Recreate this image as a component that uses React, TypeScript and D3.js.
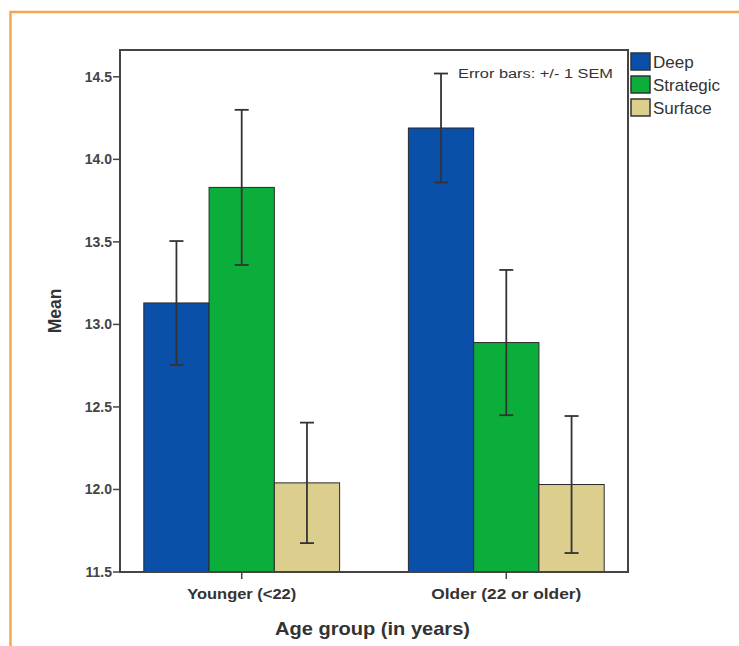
import * as d3 from "d3";

const ageGroups = ["Younger (<22)", "Older (22 or older)"];
const approaches = ["Deep", "Strategic", "Surface"];
const approachColors = ["#0b50a8", "#0bae3a", "#dccf8e"];

// mean values per age group, in order Deep / Strategic / Surface
const youngerMeans = [13.13, 13.83, 12.04];
const olderMeans = [14.19, 12.89, 12.03];
// +/- 1 SEM
const youngerSem = [0.375, 0.47, 0.365];
const olderSem = [0.33, 0.44, 0.415];

const yTicks = [11.5, 12.0, 12.5, 13.0, 13.5, 14.0, 14.5];

interface BarRow {
  group: string;
  approach: string;
  mean: number;
  sem: number;
}

const rows: BarRow[] = [
  ...approaches.map((a, i) => ({ group: ageGroups[0], approach: a, mean: youngerMeans[i], sem: youngerSem[i] })),
  ...approaches.map((a, i) => ({ group: ageGroups[1], approach: a, mean: olderMeans[i], sem: olderSem[i] })),
];

const font = "'Liberation Sans', Arial, sans-serif";

export default function App() {
  const width = 739;
  const height = 646;
  const plot = { left: 120, top: 50, right: 628, bottom: 572 };

  const yScale = d3.scaleLinear().domain([11.5, 14.6625]).range([plot.bottom, plot.top]);
  const xScale = d3
    .scaleBand()
    .domain(ageGroups)
    .range([plot.left, plot.right])
    .paddingInner(0.26)
    .paddingOuter(0.09);
  const subScale = d3.scaleBand().domain(approaches).range([0, xScale.bandwidth()]);
  const color = d3.scaleOrdinal<string, string>().domain(approaches).range(approachColors);

  const capHalf = 7;
  // rendered widths of the category labels in the original
  const labelWidths = [109, 150];

  return (
    <svg
      width={width}
      height={height}
      style={{ position: "absolute", left: 0, top: 0, background: "#fff" }}
      fontFamily={font}
    >
      {/* orange frame */}
      <path d={`M10.5,${height} V12 H${width}`} fill="none" stroke="#f5a84a" strokeWidth={2.5} />

      {/* bars */}
      {rows.map((d) => {
        const x = (xScale(d.group) || 0) + (subScale(d.approach) || 0);
        return (
          <rect
            key={`${d.group}-${d.approach}`}
            x={x}
            y={yScale(d.mean)}
            width={subScale.bandwidth()}
            height={plot.bottom - yScale(d.mean)}
            fill={color(d.approach)}
            stroke="#2a2a2a"
            strokeWidth={1}
          />
        );
      })}

      {/* error bars */}
      {rows.map((d) => {
        const cx = (xScale(d.group) || 0) + (subScale(d.approach) || 0) + subScale.bandwidth() / 2;
        const y1 = yScale(d.mean + d.sem);
        const y2 = yScale(d.mean - d.sem);
        return (
          <g key={`err-${d.group}-${d.approach}`} stroke="#333" strokeWidth={1.8}>
            <line x1={cx} x2={cx} y1={y1} y2={y2} />
            <line x1={cx - capHalf} x2={cx + capHalf} y1={y1} y2={y1} />
            <line x1={cx - capHalf} x2={cx + capHalf} y1={y2} y2={y2} />
          </g>
        );
      })}

      {/* plot frame */}
      <rect
        x={plot.left}
        y={plot.top}
        width={plot.right - plot.left}
        height={plot.bottom - plot.top}
        fill="none"
        stroke="#444"
        strokeWidth={2}
      />

      {/* y axis */}
      {yTicks.map((t) => (
        <g key={t} transform={`translate(${plot.left},${yScale(t)})`}>
          <line x1={-7} x2={0} stroke="#444" strokeWidth={1.5} />
          <text x={-8} dy="0.35em" textAnchor="end" fontSize={14} fontWeight="bold" fill="#444">
            {d3.format(".1f")(t)}
          </text>
        </g>
      ))}
      <text
        transform={`translate(61,${(plot.top + plot.bottom) / 2}) rotate(-90)`}
        textAnchor="middle"
        fontSize={17.5}
        fontWeight="bold"
        fill="#333"
      >
        Mean
      </text>

      {/* x axis */}
      {ageGroups.map((g, i) => {
        const cx = (xScale(g) || 0) + xScale.bandwidth() / 2;
        return (
          <g key={g} transform={`translate(${cx},${plot.bottom})`}>
            <line y1={0} y2={7} stroke="#444" strokeWidth={1.5} />
            <text
              x={-labelWidths[i] / 2}
              y={27}
              fontSize={14}
              fontWeight="bold"
              fill="#333"
              textLength={labelWidths[i]}
              lengthAdjust="spacingAndGlyphs"
            >
              {g}
            </text>
          </g>
        );
      })}
      <text
        x={275}
        y={635}
        fontSize={19}
        fontWeight="bold"
        fill="#333"
        textLength={195}
        lengthAdjust="spacingAndGlyphs"
      >
        Age group (in years)
      </text>

      {/* error bar note */}
      <text x={458} y={78} fontSize={12.5} fill="#333" textLength={155} lengthAdjust="spacingAndGlyphs">
        Error bars: +/- 1 SEM
      </text>

      {/* legend */}
      {approaches.map((a, i) => (
        <g key={a} transform={`translate(631,${53 + i * 23})`}>
          <rect width={19} height={17} fill={color(a)} stroke="#333" strokeWidth={1.5} />
          <text x={22} y={14.5} fontSize={17} fill="#333">
            {a}
          </text>
        </g>
      ))}
    </svg>
  );
}
